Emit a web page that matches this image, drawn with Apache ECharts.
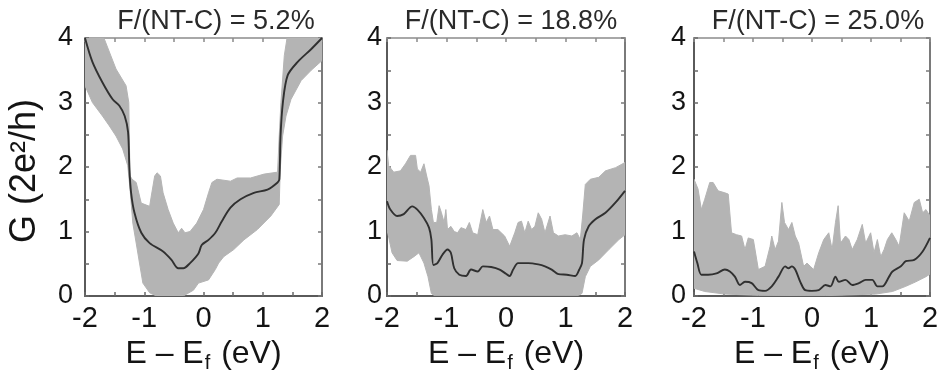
<!DOCTYPE html>
<html>
<head>
<meta charset="utf-8">
<script src="https://cdn.jsdelivr.net/npm/echarts@6/dist/echarts.min.js"></script>
<style>
html,body{margin:0;padding:0;background:#fff;}
#c{width:942px;height:383px;}
</style>
</head>
<body>
<div id="c"></div>
<script>
// ---------- data ----------
const panelTitles = ['F/(NT-C) = 5.2%', 'F/(NT-C) = 18.8%', 'F/(NT-C) = 25.0%'];
const xTickValues = [-2, -1, 0, 1, 2];
const yTickValues = [0, 1, 2, 3, 4];
const xAxisTitle = '{a|E – E}{s|f}{a| (eV)}';
const yAxisTitle = 'G (2e²/h)';

// Panel 1 : F/(NT-C) = 5.2%
const mean1 = [[-2,4.0],[-1.875,3.63],[-1.705,3.31],[-1.534,3.05],[-1.42,2.95],[-1.33,2.79],[-1.273,2.54],[-1.25,1.96],[-1.222,1.6],[-1.165,1.29],[-1.05,0.98],[-0.909,0.82],[-0.682,0.69],[-0.54,0.56],[-0.426,0.43],[-0.34,0.43],[-0.227,0.51],[-0.085,0.66],[-0.03,0.79],[0.085,0.87],[0.2,0.98],[0.31,1.16],[0.455,1.37],[0.625,1.50],[0.85,1.60],[1.08,1.65],[1.25,1.76],[1.28,1.81],[1.30,2.48],[1.34,3.0],[1.42,3.42],[1.59,3.63],[1.82,3.83],[2,4.0]];
const upper1 = [[-2,4.0],[-1.676,3.99],[-1.477,3.52],[-1.307,3.26],[-1.261,3.0],[-1.25,2.33],[-1.239,1.86],[-1.205,1.81],[-1.136,1.76],[-1.051,1.44],[-0.909,1.39],[-0.881,1.55],[-0.824,1.86],[-0.784,1.91],[-0.727,1.86],[-0.682,1.60],[-0.597,1.34],[-0.511,1.13],[-0.426,0.98],[-0.369,1.05],[-0.313,0.98],[-0.227,1.0],[-0.114,1.13],[0.0,1.34],[0.085,1.60],[0.142,1.76],[0.227,1.81],[0.455,1.78],[0.568,1.83],[0.795,1.83],[1.023,1.89],[1.25,1.92],[1.278,2.48],[1.307,3.0],[1.364,3.73],[1.41,4.0],[2,4.0]];
const lower1 = [[-2,3.26],[-1.875,3.0],[-1.705,2.79],[-1.591,2.64],[-1.477,2.48],[-1.364,2.28],[-1.278,2.02],[-1.239,1.65],[-1.193,1.13],[-1.136,0.82],[-1.08,0.51],[-1.023,0.20],[-0.909,0.05],[-0.795,0],[-0.341,0],[-0.17,0.09],[-0.085,0.2],[0.085,0.25],[0.199,0.41],[0.256,0.51],[0.341,0.61],[0.511,0.72],[0.682,0.87],[0.909,1.03],[1.136,1.24],[1.278,1.42],[1.295,1.96],[1.335,2.48],[1.392,2.79],[1.477,3.05],[1.648,3.34],[1.818,3.50],[2,3.65]];

// Panel 2 : F/(NT-C) = 18.8%
const mean2 = [[-2,1.47],[-1.944,1.34],[-1.83,1.24],[-1.718,1.27],[-1.576,1.39],[-1.49,1.34],[-1.38,1.21],[-1.294,1.06],[-1.254,0.875],[-1.22,0.48],[-1.153,0.51],[-1.068,0.64],[-0.983,0.72],[-0.927,0.67],[-0.87,0.43],[-0.785,0.33],[-0.672,0.31],[-0.588,0.41],[-0.475,0.38],[-0.39,0.46],[-0.249,0.45],[-0.107,0.41],[0.006,0.34],[0.062,0.31],[0.12,0.41],[0.203,0.51],[0.373,0.51],[0.542,0.49],[0.655,0.46],[0.768,0.41],[0.881,0.34],[1.023,0.33],[1.164,0.31],[1.232,0.41],[1.277,0.51],[1.311,0.875],[1.39,1.08],[1.503,1.19],[1.672,1.29],[1.842,1.45],[2,1.63]];
const upper2 = [[-2,2.26],[-1.972,2.02],[-1.887,1.92],[-1.774,1.94],[-1.689,2.05],[-1.605,2.18],[-1.52,2.18],[-1.49,1.97],[-1.435,1.92],[-1.379,2.05],[-1.333,1.86],[-1.294,1.71],[-1.254,1.34],[-1.22,1.14],[-1.164,1.14],[-1.124,1.40],[-1.085,1.29],[-1.04,1.14],[-1.011,1.34],[-0.983,1.03],[-0.927,1.08],[-0.87,1.0],[-0.814,0.98],[-0.757,1.06],[-0.672,1.03],[-0.616,1.14],[-0.56,0.98],[-0.475,0.95],[-0.39,1.34],[-0.333,1.14],[-0.277,1.24],[-0.22,1.03],[-0.136,1.03],[-0.023,0.93],[0.062,0.77],[0.147,0.98],[0.203,1.14],[0.26,1.16],[0.316,0.98],[0.373,1.16],[0.43,1.03],[0.486,1.08],[0.542,1.29],[0.599,1.19],[0.655,0.98],[0.74,1.24],[0.797,0.98],[0.881,0.93],[0.994,0.95],[1.107,0.93],[1.192,0.98],[1.249,0.875],[1.288,1.24],[1.333,1.73],[1.418,1.81],[1.559,1.84],[1.672,1.94],[1.842,1.99],[2,2.07]];
const lower2 = [[-2,1.03],[-1.915,0.67],[-1.83,0.55],[-1.66,0.54],[-1.548,0.61],[-1.463,0.67],[-1.379,0.51],[-1.311,0.30],[-1.254,0.04],[-1.21,0.01],[1.22,0.01],[1.277,0.04],[1.333,0.30],[1.418,0.46],[1.559,0.56],[1.729,0.72],[1.898,0.875],[2,0.95]];

// Panel 3 : F/(NT-C) = 25.0%
const mean3 = [[-2,0.69],[-1.943,0.51],[-1.875,0.33],[-1.761,0.33],[-1.619,0.35],[-1.477,0.41],[-1.392,0.38],[-1.307,0.30],[-1.222,0.17],[-1.136,0.22],[-1.023,0.20],[-0.909,0.09],[-0.795,0.08],[-0.682,0.15],[-0.568,0.30],[-0.455,0.46],[-0.398,0.43],[-0.341,0.46],[-0.284,0.41],[-0.199,0.22],[-0.114,0.09],[0,0.08],[0.114,0.09],[0.227,0.17],[0.313,0.15],[0.398,0.30],[0.455,0.22],[0.568,0.25],[0.682,0.17],[0.795,0.20],[0.909,0.25],[1.023,0.25],[1.108,0.15],[1.193,0.15],[1.307,0.30],[1.364,0.38],[1.506,0.46],[1.591,0.54],[1.733,0.56],[1.875,0.69],[2,0.90]];
const upper3 = [[-2,1.81],[-1.932,1.66],[-1.875,1.34],[-1.818,1.5],[-1.733,1.76],[-1.676,1.76],[-1.591,1.63],[-1.477,1.60],[-1.42,1.58],[-1.364,0.98],[-1.278,0.95],[-1.193,0.93],[-1.136,0.72],[-1.08,0.90],[-0.994,0.875],[-0.909,0.41],[-0.795,0.46],[-0.71,0.77],[-0.682,0.93],[-0.625,0.72],[-0.568,0.85],[-0.511,1.45],[-0.466,1.14],[-0.398,1.03],[-0.341,1.14],[-0.284,0.93],[-0.227,0.82],[-0.142,0.46],[-0.085,0.51],[-0.028,0.46],[0.028,0.41],[0.114,0.67],[0.199,0.875],[0.284,0.98],[0.341,0.72],[0.398,1.14],[0.443,1.40],[0.483,0.82],[0.568,0.93],[0.625,0.875],[0.682,0.72],[0.767,0.875],[0.852,1.11],[0.909,0.82],[0.994,0.98],[1.051,0.67],[1.108,0.875],[1.165,0.61],[1.222,0.72],[1.278,0.875],[1.352,0.98],[1.42,0.875],[1.477,0.77],[1.563,1.29],[1.648,1.16],[1.733,1.45],[1.818,1.5],[1.875,1.29],[1.932,1.34],[2,1.24]];
const lower3 = [[-2,0.12],[-1.818,0.07],[-1.477,0.03],[-0.909,0.01],[0.227,0.005],[1.08,0.03],[1.364,0.07],[1.59,0.15],[1.76,0.22],[1.932,0.30],[2,0.34]];

const panels = [
  {mean: mean1, upper: upper1, lower: lower1},
  {mean: mean2, upper: upper2, lower: lower2},
  {mean: mean3, upper: upper3, lower: lower3}
];

// ---------- layout / style ----------
const FONT = 'Liberation Sans, Arial, Helvetica, sans-serif';
const gridBoxes = [
  {left: 85, top: 38, width: 237, height: 258},
  {left: 387, top: 38, width: 238, height: 258},
  {left: 694, top: 38, width: 236, height: 258}
];
const titleCenters = [211, 506, 813];
const yLabelMargins = [12, 5, 8];
const BAND = '#b4b4b4';
const LINE = '#303030';
const TXT = '#141414';

const chart = echarts.init(document.getElementById('c'), null, {renderer: 'canvas'});

const grid = gridBoxes.map(g => Object.assign({containLabel: false}, g));
const title = panelTitles.map((t, i) => ({
  text: t, left: titleCenters[i], top: 3, textAlign: 'center',
  textStyle: {fontFamily: FONT, fontSize: 27, fontWeight: 'normal', color: '#2a2a2a'}
}));

const isTick = (arr) => (v) => arr.some(t => Math.abs(t - v) < 1e-9) ? String(v) : '';

const xAxis = [], yAxis = [], series = [];
gridBoxes.forEach((g, i) => {
  xAxis.push({
    type: 'value', gridIndex: i, min: -2, max: 2, interval: 0.5, position: 'bottom',
    axisLine: {show: true, onZero: false, lineStyle: {color: '#5a5a5a', width: 2}},
    axisTick: {show: true, inside: true, length: 4, lineStyle: {color: '#6a6a6a', width: 1.5}},
    axisLabel: {show: true, margin: 8, formatter: isTick(xTickValues),
      fontFamily: FONT, fontSize: 29, color: TXT},
    splitLine: {show: false},
    name: xAxisTitle, nameLocation: 'middle', nameGap: 41,
    nameTextStyle: {
      rich: {
        a: {fontFamily: FONT, fontSize: 32, color: TXT, verticalAlign: 'top', lineHeight: 36},
        s: {fontFamily: FONT, fontSize: 20, color: TXT, verticalAlign: 'top', lineHeight: 24, padding: [16, 2, 0, 1]}
      }
    }
  });
  xAxis.push({
    type: 'value', gridIndex: i, min: -2, max: 2, interval: 0.5, position: 'top',
    axisLine: {show: true, onZero: false, lineStyle: {color: '#a8a8a8', width: 2}},
    axisTick: {show: true, inside: true, length: 4, lineStyle: {color: '#8a8a8a', width: 1.5}},
    axisLabel: {show: false}, splitLine: {show: false}
  });
  const yl = {
    type: 'value', gridIndex: i, min: 0, max: 4, interval: 0.5, position: 'left',
    axisLine: {show: true, onZero: false, lineStyle: {color: '#5a5a5a', width: 2}},
    axisTick: {show: true, inside: true, length: 4, lineStyle: {color: '#6a6a6a', width: 1.5}},
    axisLabel: {show: true, margin: yLabelMargins[i], formatter: isTick(yTickValues),
      fontFamily: FONT, fontSize: 27, color: TXT},
    splitLine: {show: false}
  };
  if (i === 0) {
    yl.name = yAxisTitle;
    yl.nameLocation = 'middle';
    yl.nameGap = 42;
    yl.nameRotate = 90;
    yl.nameTextStyle = {fontFamily: FONT, fontSize: 36, color: TXT, padding: [0, 8, 0, 0]};
  }
  yAxis.push(yl);
  yAxis.push({
    type: 'value', gridIndex: i, min: 0, max: 4, interval: 0.5, position: 'right',
    axisLine: {show: true, onZero: false, lineStyle: {color: '#7a7a7a', width: 2}},
    axisTick: {show: true, inside: true, length: 4, lineStyle: {color: '#7a7a7a', width: 1.5}},
    axisLabel: {show: false}, splitLine: {show: false}
  });

  const p = panels[i];
  series.push({
    type: 'custom', xAxisIndex: 2 * i, yAxisIndex: 2 * i, clip: true, z: 1,
    data: [[0, 0]],
    renderItem: (params, api) => {
      const pts = p.upper.map(d => api.coord(d))
        .concat(p.lower.slice().reverse().map(d => api.coord(d)));
      return {type: 'polygon', shape: {points: pts}, style: {fill: BAND, stroke: BAND, lineWidth: 1}};
    },
    silent: true
  });
  series.push({
    type: 'line', xAxisIndex: 2 * i, yAxisIndex: 2 * i, data: p.mean, z: 3,
    smooth: 0.3, showSymbol: false, clip: true,
    lineStyle: {color: LINE, width: 1.9}, silent: true
  });
});

chart.setOption({
  animation: false,
  backgroundColor: '#ffffff',
  title, grid, xAxis, yAxis, series
});
</script>
</body>
</html>
